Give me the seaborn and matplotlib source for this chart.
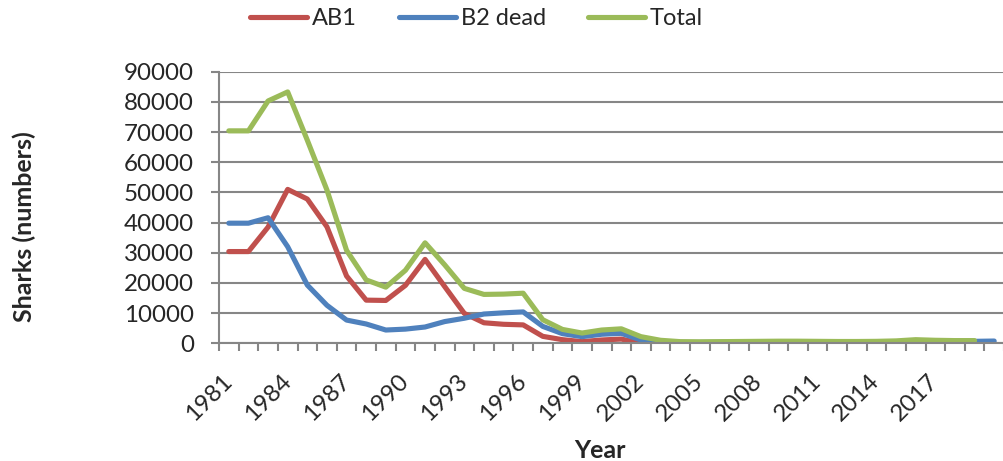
import numpy as np
import pandas as pd
import matplotlib
matplotlib.use("Agg")
import matplotlib.pyplot as plt
import seaborn as sns
from matplotlib.lines import Line2D

years = list(range(1981, 2021))
ab1 = [30400, 30400, 38500, 51000, 47800, 38600, 22300, 14300, 14200, 19200,
       27800, 18800, 9900, 6800, 6300, 6100, 2300, 1200, 550, 1100,
       1400, 0, 100, 100, 100, 100, 100, 100, 100, 100,
       100, 100, 100, 100, 150, 250, 200, 150, 150, 0]
b2_dead = [39800, 39800, 41600, 32000, 19300, 12600, 7700, 6400, 4400, 4700,
           5400, 7200, 8300, 9700, 10100, 10400, 5600, 3200, 2200, 3000,
           3300, 1100, 250, 300, 300, 350, 400, 450, 500, 500,
           450, 400, 400, 450, 500, 700, 700, 650, 650, 750]
total = [70400, 70400, 80300, 83300, 67300, 50800, 30800, 21000, 18600, 24200,
         33300, 26000, 18200, 16200, 16300, 16600, 7800, 4600, 3400, 4400,
         4800, 2200, 1000, 550, 500, 550, 600, 650, 700, 700,
         650, 600, 600, 650, 800, 1200, 1000, 900, 900, np.nan]
series_names = ["AB1", "B2 dead", "Total"]
colors = ["#C0504D", "#4F81BD", "#9BBB59"]
label_years = list(range(1981, 2019, 3))

df = pd.DataFrame({"Year": years * 3,
                   "Sharks": ab1 + b2_dead + total,
                   "Series": [series_names[0]] * len(years) + [series_names[1]] * len(years)
                             + [series_names[2]] * len(years)})

sns.set_style("white")
plt.rcParams["font.family"] = ["Lato", "DejaVu Sans"]

fig = plt.figure(figsize=(10.04, 4.61), dpi=100)
ax = fig.add_axes([219 / 1004, 1 - 343.3 / 461, 1 - 219 / 1004, (343.3 - 71.7) / 461])

sns.lineplot(data=df, x="Year", y="Sharks", hue="Series", hue_order=series_names,
             palette=colors, linewidth=3.7, ax=ax, legend=False, sort=False,
             solid_capstyle="round", solid_joinstyle="round")

grid_c = "#868686"
ax.set_ylim(0, 90000)
ax.set_xlim(1980.5, 2020.5)
ax.set_yticks(np.arange(0, 90001, 10000))
ax.set_yticklabels([str(v) for v in range(0, 90001, 10000)], fontsize=17.4)
ax.yaxis.grid(True, color=grid_c, linewidth=1.5)
ax.set_axisbelow(True)
ax.tick_params(axis="y", direction="out", length=6, width=1.5, color=grid_c, pad=12, left=True)

ax.set_xticks(np.arange(1980.5, 2021, 1))
ax.set_xticklabels([])
ax.tick_params(axis="x", which="major", direction="out", length=6, width=1.5, color=grid_c, bottom=True)
ax.set_xticks(label_years, minor=True)
ax.set_xticklabels([str(y) for y in label_years], minor=True, fontsize=17.4,
                   rotation=45, ha="right", va="center", rotation_mode="anchor")
ax.tick_params(axis="x", which="minor", length=0, pad=25)

for s in ["top", "right"]:
    ax.spines[s].set_visible(False)
for s in ["left", "bottom"]:
    ax.spines[s].set_color(grid_c)
    ax.spines[s].set_linewidth(1.5)

ax.set_xlabel("")
ax.set_ylabel("")
fig.text(600 / 1004, 1 - 450 / 461, "Year", fontsize=18, fontweight="bold", ha="center", va="center")
fig.text(24 / 1004, 1 - 227 / 461, "Sharks (numbers)", fontsize=18, fontweight="bold",
         rotation=90, ha="center", va="center")

handles = [Line2D([], [], color=c, linewidth=3.7, solid_capstyle="round") for c in colors]
fig.legend(handles, series_names, loc="center", bbox_to_anchor=(476.5 / 1004, 1 - 18.5 / 461),
           ncol=3, frameon=False, fontsize=17, handlelength=2.4, columnspacing=1.8,
           handletextpad=0.2, borderpad=0, borderaxespad=0)

fig.savefig("out.png", dpi=100)
